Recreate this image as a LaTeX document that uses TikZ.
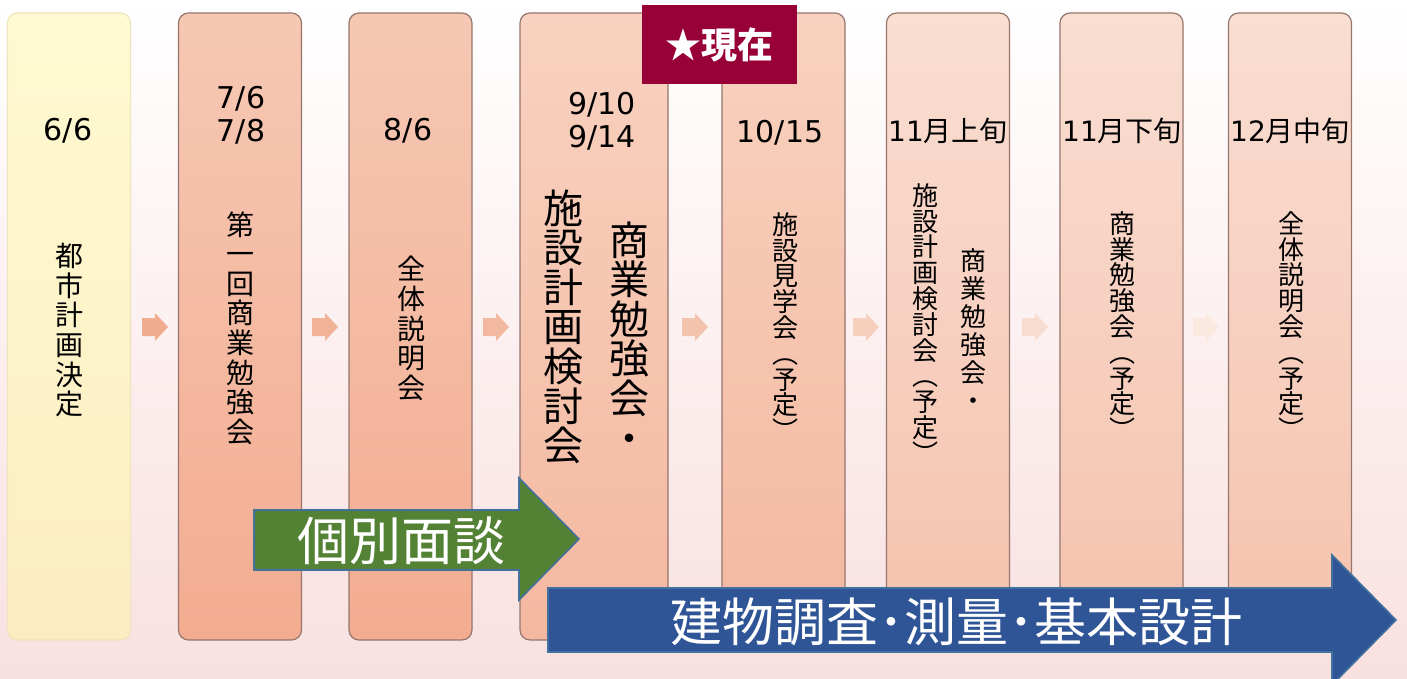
\documentclass[tikz,border=0pt]{standalone}
\usepackage{fontspec}
\setmainfont{Noto Sans CJK JP}
\newfontfamily\digitfont{DejaVu Sans}
\newcommand{\tightlines}{\lineskiplimit=-20pt\relax}
\definecolor{bgpink}{RGB}{249,224,224}
\definecolor{yeltop}{RGB}{255,250,210}
\definecolor{yelbot}{RGB}{252,237,192}
\definecolor{yelline}{RGB}{238,228,190}
\definecolor{saltop}{RGB}{246,200,180}
\definecolor{salbot}{RGB}{243,172,144}
\definecolor{midtop}{RGB}{248,210,192}
\definecolor{midbot}{RGB}{244,184,160}
\definecolor{paletop}{RGB}{249,222,210}
\definecolor{palebot}{RGB}{245,194,174}
\definecolor{boxline}{RGB}{150,118,108}
\definecolor{nowred}{RGB}{152,0,56}
\definecolor{talkgreen}{RGB}{84,130,53}
\definecolor{surveyblue}{RGB}{47,85,151}
\definecolor{shapeline}{RGB}{65,113,156}
\definecolor{arrowsal}{RGB}{240,172,142}
\begin{document}
\begin{tikzpicture}[x=0.5pt, y=-0.5pt,
    stage/.style={rectangle, rounded corners=5pt, draw=boxline, line width=0.6pt, minimum width=61.5pt, minimum height=313.5pt, inner sep=0pt},
    date/.style={align=center, inner sep=0pt, font=\fontsize{15}{16.5}\selectfont\digitfont},
    month/.style={inner sep=0pt, font=\fontsize{14}{16}\selectfont},
    vbig/.style={align=center, inner sep=0pt, anchor=north, font=\fontsize{20}{19.8}\selectfont\tightlines},
    vmid/.style={align=center, inner sep=0pt, anchor=north, font=\fontsize{14}{14.8}\selectfont\tightlines},
    vsmall/.style={align=center, inner sep=0pt, anchor=north, font=\fontsize{13}{12.9}\selectfont\tightlines},
    banner/.style={text=white, inner sep=0pt, font=\fontsize{26}{26}\selectfont}]
      \useasboundingbox (0,0) rectangle (1407,679);
      \clip (0,0) rectangle (1407,679);
      \shade[top color=white, bottom color=bgpink] (0,0) rectangle (1407,679);

      \node[stage, draw=yelline, top color=yeltop, bottom color=yelbot] at (69,326.5)   (s1) {};
      \node[stage, top color=saltop, bottom color=salbot]               at (240,326.5)  (s2) {};
      \node[stage, top color=saltop, bottom color=salbot]               at (410.5,326.5) (s3) {};
      \node[stage, minimum width=74pt, top color=midtop, bottom color=midbot] at (594,326.5) (s4) {};
      \node[stage, top color=midtop, bottom color=midbot]               at (783.5,326.5) (s5) {};
      \node[stage, top color=paletop, bottom color=palebot]             at (948,326.5)  (s6) {};
      \node[stage, top color=paletop, bottom color=palebot]             at (1121.5,326.5) (s7) {};
      \node[stage, top color=paletop, bottom color=palebot]             at (1290,326.5) (s8) {};

      \foreach \x/\c in {155/100, 325/92, 496/84, 695/72, 866/58, 1035/42, 1206/28}
        \fill[arrowsal!\c!white] (\x-13,318) -- (\x,318) -- (\x,313) -- (\x+13,327) -- (\x,341) -- (\x,336) -- (\x-13,336) -- cycle;

      \node[date] at (68,131)   (d1) {6/6};
      \node[date] at (241,115)  (d2) {7/6\\7/8};
      \node[date] at (408,131)  (d3) {8/6};
      \node[date] at (602,121)  (d4) {9/10\\9/14};
      \node[date] at (780,133)  (d5) {10/15};
      \node[month] at (948,131)  (d6) {{\digitfont 11}月上旬};
      \node[month] at (1122,131) (d7) {{\digitfont 11}月下旬};
      \node[month] at (1290,131) (d8) {{\digitfont 12}月中旬};

      \node[vmid]   at (69,243)   (t1)  {都\\市\\計\\画\\決\\定};
      \node[vmid]   at (240.5,211) (t2) {第\\一\\回\\商\\業\\勉\\強\\会};
      \node[vmid]   at (411,256)  (t3)  {全\\体\\説\\明\\会};
      \node[vbig]   at (563,189)  (t4a) {施\\設\\計\\画\\検\\討\\会};
      \node[vbig]   at (629,221)  (t4b) {商\\業\\勉\\強\\会\\・};
      \node[vsmall] at (785,212)  (t5)  {施\\設\\見\\学\\会\\︵\\予\\定\\︶};
      \node[vsmall] at (925,183)  (t6a) {施\\設\\計\\画\\検\\討\\会\\︵\\予\\定\\︶};
      \node[vsmall, font=\fontsize{13}{14}\selectfont\tightlines] at (973,248) (t6b) {商\\業\\勉\\強\\会\\・};
      \node[vsmall] at (1122,211) (t7)  {商\\業\\勉\\強\\会\\︵\\予\\定\\︶};
      \node[vsmall] at (1291,211) (t8)  {全\\体\\説\\明\\会\\︵\\予\\定\\︶};

      \node[rectangle, fill=nowred, minimum width=77.5pt, minimum height=39.5pt, inner sep=0pt,
            text=white, font=\fontsize{18}{18}\selectfont\bfseries] at (719.5,44.5) (now) {★現在};

      \draw[fill=talkgreen, draw=shapeline, line width=0.8pt]
        (254,510) -- (519,510) -- (519,478) -- (579,539) -- (519,600) -- (519,570) -- (254,570) -- cycle;
      \node[banner] at (401,541) (talk) {個別面談};

      \draw[fill=surveyblue, draw=shapeline, line width=0.8pt]
        (548,588) -- (1332,588) -- (1332,555) -- (1396,620) -- (1332,685) -- (1332,652) -- (548,652) -- cycle;
      \node[banner] at (956,622) (survey) {建物調査･測量･基本設計};
    \end{tikzpicture}
\end{document}
